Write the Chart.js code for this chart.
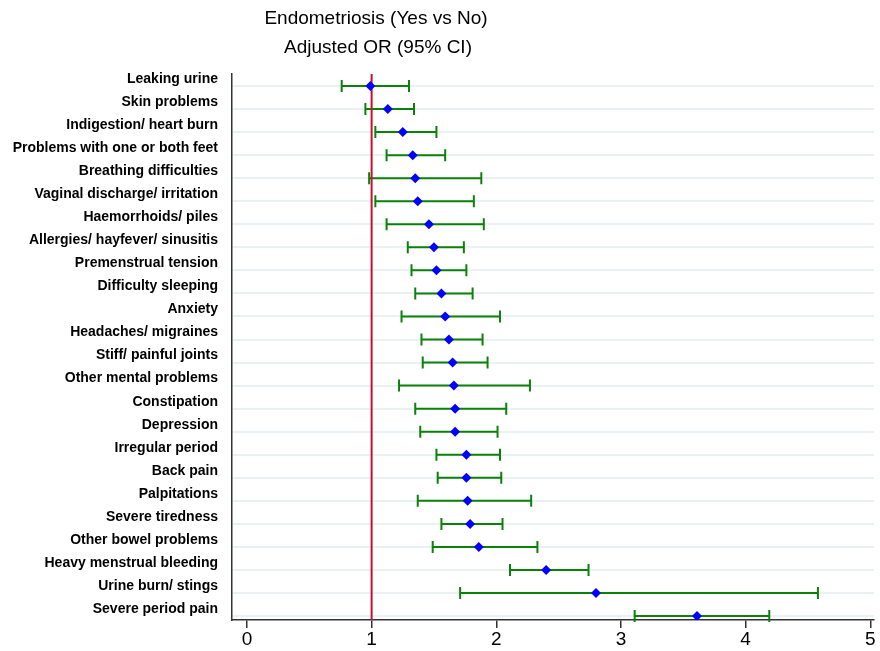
<!DOCTYPE html>
<html>
<head>
<meta charset="utf-8">
<script src="https://cdn.jsdelivr.net/npm/chart.js@4"></script>
<style>
  html, body { margin: 0; padding: 0; background: #fff; }
  #wrap { width: 880px; height: 651px; }
</style>
</head>
<body>
<div id="wrap"><canvas id="forest"></canvas></div>
<script>
// Data
const categories = [
    'Leaking urine', 'Skin problems', 'Indigestion/ heart burn', 'Problems with one or both feet',
    'Breathing difficulties', 'Vaginal discharge/ irritation', 'Haemorrhoids/ piles',
    'Allergies/ hayfever/ sinusitis', 'Premenstrual tension', 'Difficulty sleeping', 'Anxiety',
    'Headaches/ migraines', 'Stiff/ painful joints', 'Other mental problems', 'Constipation',
    'Depression', 'Irregular period', 'Back pain', 'Palpitations', 'Severe tiredness',
    'Other bowel problems', 'Heavy menstrual bleeding', 'Urine burn/ stings', 'Severe period pain'
];
const oddsRatio = [0.99, 1.13, 1.25, 1.33, 1.35, 1.37, 1.46, 1.50, 1.52, 1.56, 1.59, 1.62,
    1.65, 1.66, 1.67, 1.67, 1.76, 1.76, 1.77, 1.79, 1.86, 2.40, 2.80, 3.61];
const lowerCI = [0.76, 0.95, 1.03, 1.12, 0.98, 1.03, 1.12, 1.29, 1.32, 1.35, 1.24, 1.40,
    1.41, 1.22, 1.35, 1.39, 1.52, 1.53, 1.37, 1.56, 1.49, 2.11, 1.71, 3.11];
const upperCI = [1.30, 1.34, 1.52, 1.59, 1.88, 1.82, 1.90, 1.74, 1.76, 1.81, 2.03, 1.89,
    1.93, 2.27, 2.08, 2.01, 2.03, 2.04, 2.28, 2.05, 2.33, 2.74, 4.58, 4.19];
const xTicks = [0, 1, 2, 3, 4, 5];
const nullValue = 1;
const titleLines = ['Endometriosis (Yes vs No)', 'Adjusted OR (95% CI)'];

const points = oddsRatio.map((v, i) => ({ x: v, y: i }));

// whiskers + reference line, drawn under the markers
const forestPlugin = {
    id: 'forestPlugin',
    beforeDatasetsDraw(chart) {
        const { ctx, chartArea, scales: { x, y } } = chart;
        ctx.save();
        ctx.strokeStyle = '#0a820a';
        ctx.lineWidth = 2;
        for (let i = 0; i < categories.length; i++) {
            const py = y.getPixelForValue(i);
            const x0 = x.getPixelForValue(lowerCI[i]);
            const x1 = x.getPixelForValue(upperCI[i]);
            ctx.beginPath();
            ctx.moveTo(x0, py); ctx.lineTo(x1, py);
            ctx.moveTo(x0, py - 6); ctx.lineTo(x0, py + 6);
            ctx.moveTo(x1, py - 6); ctx.lineTo(x1, py + 6);
            ctx.stroke();
        }
        const rx = x.getPixelForValue(nullValue);
        ctx.strokeStyle = '#c8102e';
        ctx.lineWidth = 2;
        ctx.beginPath();
        ctx.moveTo(rx, chartArea.top);
        ctx.lineTo(rx, chartArea.bottom);
        ctx.stroke();
        ctx.restore();
    },
    afterDraw(chart) {
        const { ctx } = chart;
        ctx.save();
        ctx.fillStyle = '#000';
        ctx.font = '19px "Liberation Sans", Arial, sans-serif';
        ctx.textAlign = 'center';
        ctx.textBaseline = 'middle';
        ctx.fillText(titleLines[0], 376, 19);
        ctx.fillText(titleLines[1], 378, 48);
        ctx.restore();
    }
};

new Chart(document.getElementById('forest'), {
    type: 'scatter',
    data: {
        datasets: [{
            data: points,
            pointStyle: 'rectRot',
            pointRadius: 5,
            pointHoverRadius: 5,
            backgroundColor: '#0000ff',
            borderColor: '#0000ff',
            borderWidth: 0
        }]
    },
    options: {
        responsive: true,
        maintainAspectRatio: false,
        animation: false,
        layout: { padding: { top: 74, right: 6, bottom: 0, left: 0 } },
        plugins: {
            legend: { display: false },
            tooltip: { enabled: false }
        },
        scales: {
            x: {
                type: 'linear',
                min: -0.12,
                max: 5.03,
                afterBuildTicks: (scale) => { scale.ticks = xTicks.map(v => ({ value: v })); },
                afterFit: (scale) => { scale.height = 31; },
                grid: { drawOnChartArea: false, drawTicks: true, tickLength: 8, color: '#333', lineWidth: 1.5 },
                border: { color: '#333', width: 1.5 },
                ticks: {
                    color: '#000',
                    padding: 0,
                    font: { family: '"Liberation Sans", Arial, sans-serif', size: 19 }
                }
            },
            y: {
                type: 'linear',
                reverse: true,
                min: -0.52,
                max: 23.17,
                afterBuildTicks: (scale) => { scale.ticks = categories.map((_, i) => ({ value: i })); },
                afterFit: (scale) => { scale.width = 232; },
                grid: { color: '#e9f1f4', lineWidth: 2, drawTicks: false },
                border: { color: '#333', width: 1.5 },
                ticks: {
                    color: '#000',
                    padding: 14,
                    labelOffset: -7,
                    autoSkip: false,
                    callback: (v) => categories[v],
                    font: { family: '"Liberation Sans", Arial, sans-serif', size: 14, weight: 'bold' }
                }
            }
        }
    },
    plugins: [forestPlugin]
});
</script>
</body>
</html>
